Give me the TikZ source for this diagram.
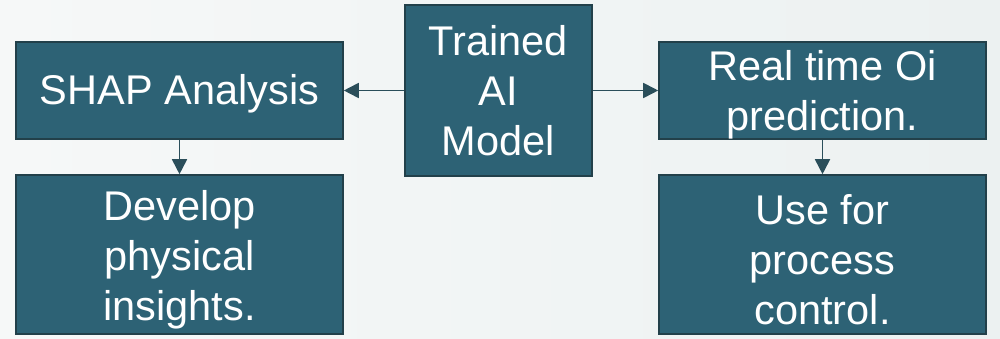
\documentclass[tikz,border=0pt]{standalone}
\usepackage{fontspec}
\setmainfont{Liberation Sans}
\usetikzlibrary{arrows.meta}
\definecolor{boxfill}{RGB}{45,98,117}
\definecolor{boxline}{RGB}{34,64,74}
\definecolor{arrowcol}{RGB}{42,78,90}
\definecolor{bgleft}{RGB}{246,248,248}
\definecolor{bgright}{RGB}{236,241,241}
\begin{document}
\begin{tikzpicture}[x=1pt,y=1pt,
  block/.style={draw=boxline, fill=boxfill, line width=1.6pt, inner sep=0pt, anchor=center},
  label text/.style={text=white, align=center, inner sep=0pt,
    font=\fontsize{41.5}{50}\selectfont},
  flow/.style={draw=arrowcol, line width=1.8pt,
    -{Triangle[length=15pt,width=15pt]}}]
  % page and background
  \useasboundingbox (0,0) rectangle (1000,339);
  \shade[left color=bgleft, right color=bgright] (0,0) rectangle (1000,339);

  % boxes
  \node[block, minimum width=327pt, minimum height=97pt]  (shap)    at (179.5,248.5) {};
  \node[block, minimum width=187pt, minimum height=171pt] (model)   at (498.5,248.5) {};
  \node[block, minimum width=327pt, minimum height=97pt]  (predict) at (822.5,248.5) {};
  \node[block, minimum width=327pt, minimum height=159pt] (insight) at (179.5,84.5) {};
  \node[block, minimum width=327pt, minimum height=159pt] (control) at (822.5,84.5) {};

  % box texts
  \node[label text] (shapT)    at ([yshift=-3pt]shap.center)    {SHAP Analysis};
  \node[label text] (modelT)   at (model)   {Trained\\AI\\Model};
  \node[label text] (predictT) at ([yshift=-4pt]predict.center) {Real time Oi\\prediction.};
  \node[label text] (insightT) at ([yshift=-5pt]insight.center) {Develop\\physical\\insights.};
  \node[label text] (controlT) at ([yshift=-5pt]control.center) {Use for\\process\\control.};

  % connectors
  \draw[flow] (model.west) -- (shap.east);
  \draw[flow] (model.east) -- (predict.west);
  \draw[flow] (shap.south) -- (insight.north);
  \draw[flow] (predict.south) -- (control.north);
\end{tikzpicture}
\end{document}
